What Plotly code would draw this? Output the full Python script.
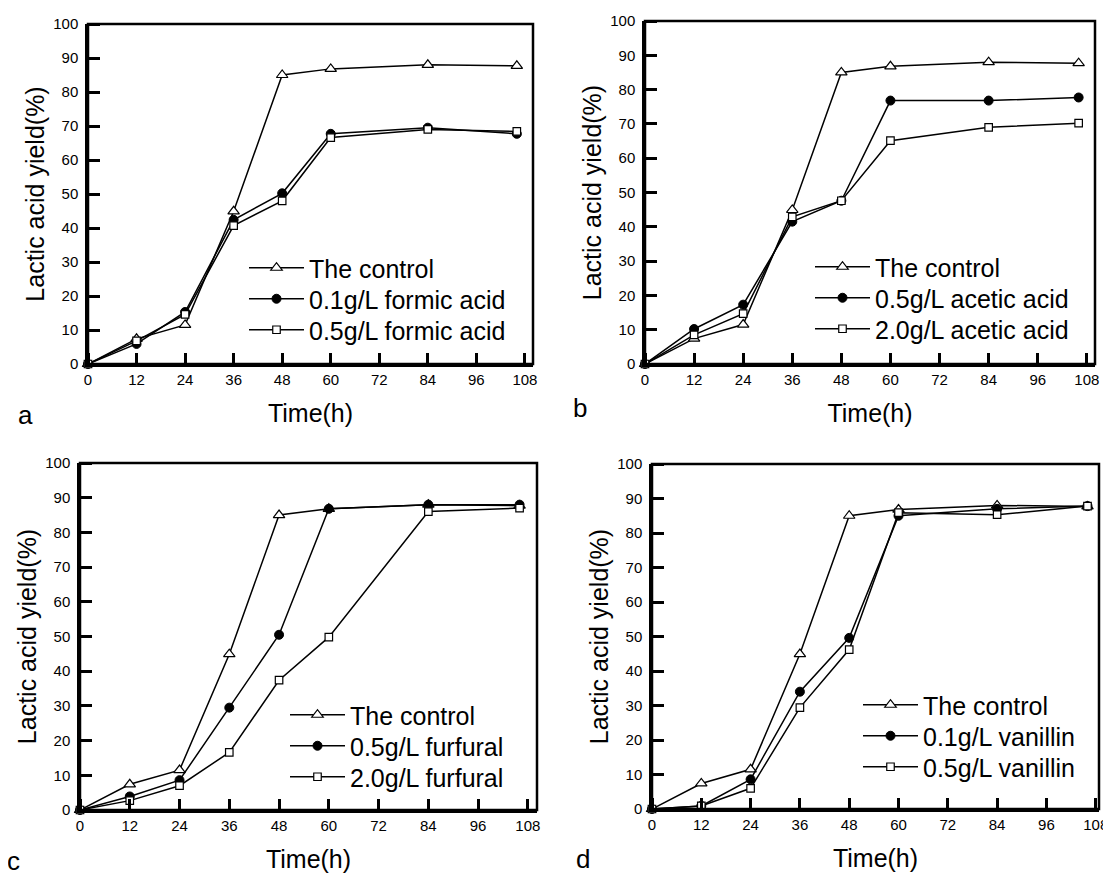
import plotly.graph_objects as go

time_h = [0, 12, 24, 36, 48, 60, 84, 106]
control = [0, 7.4, 11.5, 44.9, 85.0, 86.8, 88.0, 87.7]

formic_01 = [0, 5.9, 15.3, 42.4, 50.2, 67.7, 69.5, 67.7]
formic_05 = [0, 6.8, 14.6, 40.7, 48.0, 66.6, 69.0, 68.4]

acetic_05 = [0, 10.2, 17.3, 41.5, 47.6, 76.8, 76.8, 77.7]
acetic_20 = [0, 8.5, 14.7, 42.9, 47.6, 65.1, 69.0, 70.2]

furfural_05 = [0, 3.9, 8.6, 29.5, 50.5, 86.8, 88.0, 88.0]
furfural_20 = [0, 2.7, 7.0, 16.6, 37.4, 49.8, 86.0, 87.0]

vanillin_01 = [0, 0.9, 8.6, 34.0, 49.6, 85.0, 87.0, 87.8]
vanillin_05 = [0, 0.9, 6.0, 29.4, 46.2, 85.9, 85.3, 87.8]

x_ticks = [0, 12, 24, 36, 48, 60, 72, 84, 96, 108]
y_ticks = [0, 10, 20, 30, 40, 50, 60, 70, 80, 90, 100]

panels = [
    ("a", ["The control", "0.1g/L formic acid", "0.5g/L formic acid"], [control, formic_01, formic_05]),
    ("b", ["The control", "0.5g/L acetic acid", "2.0g/L acetic acid"], [control, acetic_05, acetic_20]),
    ("c", ["The control", "0.5g/L furfural", "2.0g/L furfural"], [control, furfural_05, furfural_20]),
    ("d", ["The control", "0.1g/L vanillin", "0.5g/L vanillin"], [control, vanillin_01, vanillin_05]),
]

OFF = 8  # default page margin of the html body
W, H = 1111 - OFF, 875 - OFF
# pixel boxes in the page (left, right, top, bottom) for each panel
boxes = [(88, 533, 24, 364), (645, 1095, 21, 364), (80, 537, 463, 810), (652, 1099, 464, 809)]
xmax = [110.0, 110.0, 110.2, 108.8]
# legend: left of sample line, centre of first row (page px)
legend_pos = [(250, 268), (816, 267), (291, 715), (864, 705)]
row_gap = 31
letter_pos = [(25, 415), (580, 408), (13, 861), (583, 859)]

FONT = "Liberation Sans, Arial, sans-serif"
styles = [
    dict(symbol="triangle-up", size=10, color="white", line=dict(color="black", width=1.2)),
    dict(symbol="circle", size=9, color="black", line=dict(color="black", width=1)),
    dict(symbol="square", size=7.5, color="white", line=dict(color="black", width=1.2)),
]
TICK = dict(ticks="outside", ticklen=11, tickwidth=2.5, tickcolor="black",
            showticklabels=False, showline=False, showgrid=False, zeroline=False)


def fx(p):
    return (p - OFF) / W


def fy(p):
    return 1 - (p - OFF) / H


fig = go.Figure()
layout = dict(
    template="none", showlegend=True,
    width=W, height=H, margin=dict(l=0, r=0, t=0, b=0, autoexpand=False),
    paper_bgcolor="white", plot_bgcolor="rgba(0,0,0,0)",
    font=dict(family=FONT, color="black"),
    annotations=[], shapes=[],
)

k = 0
for i, (letter, names, series) in enumerate(panels):
    n = i + 1
    xa = "x" if n == 1 else f"x{n}"
    ya = "y" if n == 1 else f"y{n}"
    xt, yt = f"x{n + 4}", f"y{n + 4}"
    lx, ly = legend_pos[i]
    for j, (name, vals, st) in enumerate(zip(names, series, styles)):
        lg = "legend" if k == 0 else f"legend{k + 1}"
        k += 1
        fig.add_trace(go.Scatter(
            x=time_h, y=vals, name=name, mode="lines+markers",
            line=dict(color="black", width=1.5), marker=st,
            xaxis=xa, yaxis=ya, legend=lg, cliponaxis=False, showlegend=True,
        ))
        layout[lg] = dict(
            visible=True,
            x=fx(lx - 6), y=fy(ly + j * row_gap), xanchor="left", yanchor="middle",
            bgcolor="rgba(0,0,0,0)", borderwidth=0, itemwidth=55,
            font=dict(family=FONT, size=25, color="black"),
        )
    # empty traces that attach the inward tick-mark axes to this panel
    fig.add_trace(go.Scatter(x=[], y=[], xaxis=xt, yaxis=ya, showlegend=False, hoverinfo="skip"))
    fig.add_trace(go.Scatter(x=[], y=[], xaxis=xa, yaxis=yt, showlegend=False, hoverinfo="skip"))

    l, r, t, b = boxes[i]
    axis_common = dict(
        ticks="", mirror=False,
        showline=True, linecolor="black", linewidth=2.5,
        showgrid=False, zeroline=False, automargin=False,
        tickfont=dict(family=FONT, size=15, color="black"),
    )
    xd = dict(axis_common, domain=[fx(l), fx(r)], range=[0, xmax[i]], anchor=ya,
              tickmode="array", tickvals=x_ticks, ticklabeloverflow="allow",
              title=dict(text="Time(h)", font=dict(family=FONT, size=25), standoff=18))
    yd = dict(axis_common, domain=[fy(b), fy(t)], range=[0, 100], anchor=xa,
              tickmode="array", tickvals=y_ticks, ticklabelstandoff=4,
              title=dict(text="Lactic acid yield(%)", font=dict(family=FONT, size=25), standoff=2))
    layout["xaxis" if n == 1 else f"xaxis{n}"] = xd
    layout["yaxis" if n == 1 else f"yaxis{n}"] = yd
    # tick marks pointing into the plot area
    layout[f"xaxis{n + 4}"] = dict(
        TICK, overlaying=xa, range=[0, xmax[i]], anchor="free", position=fy(b),
        side="top", tickmode="array", tickvals=x_ticks,
    )
    layout[f"yaxis{n + 4}"] = dict(
        TICK, overlaying=ya, range=[0, 100], anchor="free", position=fx(l),
        side="right", tickmode="array", tickvals=y_ticks,
    )
    # frame of the plot area
    layout["shapes"].append(dict(
        type="rect", xref=f"{xa} domain", yref=f"{ya} domain",
        x0=0, x1=1, y0=0, y1=1, line=dict(color="black", width=2.5),
        fillcolor="rgba(0,0,0,0)", layer="above",
    ))
    px, py = letter_pos[i]
    layout["annotations"].append(dict(
        text=letter, x=fx(px), y=fy(py), xref="paper", yref="paper",
        showarrow=False, xanchor="center", yanchor="middle",
        font=dict(family=FONT, size=26, color="black"),
    ))

fig.update_layout(**layout)
fig.write_html("out.html")
